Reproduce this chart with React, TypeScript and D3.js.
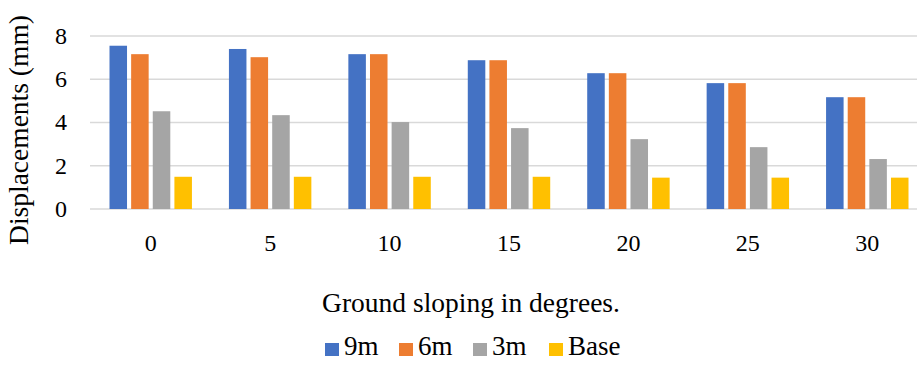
import React, { useEffect, useRef } from 'react'
import * as d3 from 'd3'

// ground slope (degrees)
const categories = ['0', '5', '10', '15', '20', '25', '30']
const seriesNames = ['9m', '6m', '3m', 'Base']
const values9m = [7.55, 7.4, 7.16, 6.88, 6.28, 5.82, 5.17]
const values6m = [7.16, 7.02, 7.16, 6.88, 6.28, 5.82, 5.17]
const values3m = [4.52, 4.34, 4.02, 3.74, 3.23, 2.86, 2.31]
const valuesBase = [1.49, 1.49, 1.49, 1.49, 1.45, 1.45, 1.45]
const yTicks = [0, 2, 4, 6, 8]

const colors = ['#4472C4', '#ED7D31', '#A5A5A5', '#FFC000']
const font = '"Liberation Serif", "Times New Roman", serif'

export default function App() {
  const ref = useRef<SVGSVGElement | null>(null)

  useEffect(() => {
    const width = 917
    const height = 366
    const svg = d3.select(ref.current).attr('width', width).attr('height', height)
    svg.selectAll('*').remove()

    const allSeries = [values9m, values6m, values3m, valuesBase]

    const x0 = d3.scaleBand<string>().domain(categories).range([91, 927]).padding(0)
    const x1 = d3.scaleBand<string>()
      .domain(seriesNames)
      .range([18.5, x0.bandwidth() - 18.5])
      .paddingInner(0.19)
      .paddingOuter(0)
    const y = d3.scaleLinear().domain([0, 8]).range([209, 36])

    // gridlines
    svg.append('g')
      .selectAll('line')
      .data(yTicks)
      .join('line')
      .attr('x1', 90)
      .attr('x2', width)
      .attr('y1', d => y(d))
      .attr('y2', d => y(d))
      .attr('stroke', '#D9D9D9')
      .attr('stroke-width', 1.5)

    // y tick labels
    svg.append('g')
      .selectAll('text')
      .data(yTicks)
      .join('text')
      .attr('x', 67)
      .attr('y', d => y(d))
      .attr('dy', '0.33em')
      .attr('text-anchor', 'end')
      .attr('font-family', font)
      .attr('font-size', 24)
      .text(d => d)

    // bars
    const groups = svg.append('g')
      .selectAll('g')
      .data(categories)
      .join('g')
      .attr('transform', d => 'translate(' + x0(d) + ',0)')

    groups.selectAll('rect')
      .data((c, i) => allSeries.map((s, k) => ({ name: seriesNames[k], value: s[i], k })))
      .join('rect')
      .attr('x', d => x1(d.name)!)
      .attr('width', x1.bandwidth())
      .attr('y', d => y(d.value))
      .attr('height', d => y(0) - y(d.value))
      .attr('fill', d => colors[d.k])

    // x tick labels
    svg.append('g')
      .selectAll('text')
      .data(categories)
      .join('text')
      .attr('x', d => x0(d)! + x0.bandwidth() / 2)
      .attr('y', 251)
      .attr('text-anchor', 'middle')
      .attr('font-family', font)
      .attr('font-size', 24)
      .text(d => d)

    // axis titles
    svg.append('text')
      .attr('transform', 'translate(28,130) rotate(-90)')
      .attr('text-anchor', 'middle')
      .attr('font-family', font)
      .attr('font-size', 27.5)
      .text('Displacements (mm)')

    svg.append('text')
      .attr('x', 471)
      .attr('y', 312)
      .attr('text-anchor', 'middle')
      .attr('font-family', font)
      .attr('font-size', 27.5)
      .text('Ground sloping in degrees.')

    // legend
    const legendX = [325, 399, 473, 549]
    const legend = svg.append('g')
      .selectAll('g')
      .data(seriesNames)
      .join('g')
      .attr('transform', (d, i) => 'translate(' + legendX[i] + ',0)')
    legend.append('rect')
      .attr('x', 0)
      .attr('y', 343)
      .attr('width', 14)
      .attr('height', 13)
      .attr('fill', (d, i) => colors[i])
    legend.append('text')
      .attr('x', 19)
      .attr('y', 355)
      .attr('font-family', font)
      .attr('font-size', 27)
      .text(d => d)
  }, [])

  return <svg ref={ref} style={{ position: 'absolute', left: 0, top: 0, display: 'block', background: '#fff' }} />
}
